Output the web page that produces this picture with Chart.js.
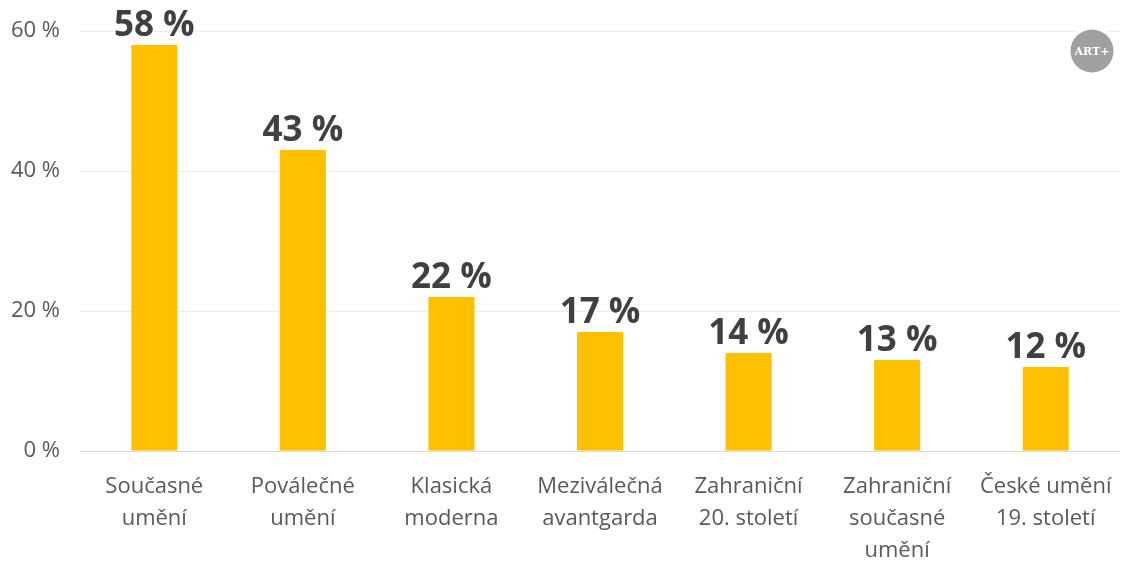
<!DOCTYPE html>
<html>
<head>
<meta charset="utf-8">
<script src="https://cdn.jsdelivr.net/npm/chart.js@4/dist/chart.umd.min.js"></script>
<style>
  html, body { margin: 0; padding: 0; background: #fff; }
  #wrap { width: 1135px; height: 567px; }
</style>
</head>
<body>
<div id="wrap"><canvas id="myChart"></canvas></div>
<script>
const categories = [
    ['Současné', 'umění'],
    ['Poválečné', 'umění'],
    ['Klasická', 'moderna'],
    ['Meziválečná', 'avantgarda'],
    ['Zahraniční', '20. století'],
    ['Zahraniční', 'současné', 'umění'],
    ['České umění', '19. století']
];
const shares = [58, 43, 22, 17, 14, 13, 12];
const yTicks = [0, 20, 40, 60];

const FONT = "'Open Sans', 'Noto Sans', sans-serif";

// value labels above the bars
const barLabels = {
    id: 'barLabels',
    afterDatasetsDraw(chart) {
        const c = chart.ctx;
        const meta = chart.getDatasetMeta(0);
        c.save();
        c.font = 'bold 35px ' + FONT;
        c.fillStyle = '#404040';
        c.textAlign = 'center';
        c.textBaseline = 'alphabetic';
        meta.data.forEach((bar, i) => {
            c.fillText(shares[i] + ' %', bar.x, bar.y - 9);
        });
        c.restore();
    }
};

// ART+ badge in the corner
const badge = {
    id: 'badge',
    afterDraw(chart) {
        const c = chart.ctx;
        const x = 1092, y = 51;
        c.save();
        c.fillStyle = '#fff';
        c.beginPath(); c.arc(x, y, 25, 0, Math.PI * 2); c.fill();
        c.fillStyle = '#a0a0a0';
        c.beginPath(); c.arc(x, y, 21.5, 0, Math.PI * 2); c.fill();
        c.fillStyle = '#fff';
        c.font = "bold 11px 'DejaVu Serif', serif";
        c.textAlign = 'center';
        c.textBaseline = 'middle';
        c.fillText('ART+', x, y + 1);
        c.restore();
    }
};

const ctx = document.getElementById('myChart');

new Chart(ctx, {
    type: 'bar',
    data: {
        labels: categories,
        datasets: [{
            data: shares,
            backgroundColor: '#FFC000',
            borderWidth: 0,
            categoryPercentage: 1,
            barPercentage: 0.31
        }]
    },
    options: {
        responsive: true,
        maintainAspectRatio: false,
        animation: false,
        layout: { padding: { top: 31, right: 15, left: 0, bottom: 0 } },
        plugins: {
            legend: { display: false },
            tooltip: { enabled: false }
        },
        scales: {
            x: {
                grid: { display: false, drawTicks: false },
                border: { display: false },
                ticks: {
                    color: '#595959',
                    font: { family: FONT, size: 22, lineHeight: 1.45 },
                    padding: 20,
                    maxRotation: 0,
                    autoSkip: false
                },
                afterFit(axis) { axis.height = 116; }
            },
            y: {
                min: 0,
                max: 60,
                afterBuildTicks(axis) {
                    axis.ticks = yTicks.map(v => ({ value: v }));
                },
                grid: {
                    drawTicks: false,
                    color: c => c.tick && c.tick.value === 0 ? '#d9d9d9' : '#ececec',
                    lineWidth: 1
                },
                border: { display: false },
                ticks: {
                    color: '#595959',
                    font: { family: FONT, size: 22 },
                    padding: 20,
                    callback: v => v + ' %'
                },
                afterFit(axis) {
                    axis.width = 80;
                    axis.paddingTop = 0;
                    axis.paddingBottom = 0;
                }
            }
        }
    },
    plugins: [barLabels, badge]
});
</script>
</body>
</html>
